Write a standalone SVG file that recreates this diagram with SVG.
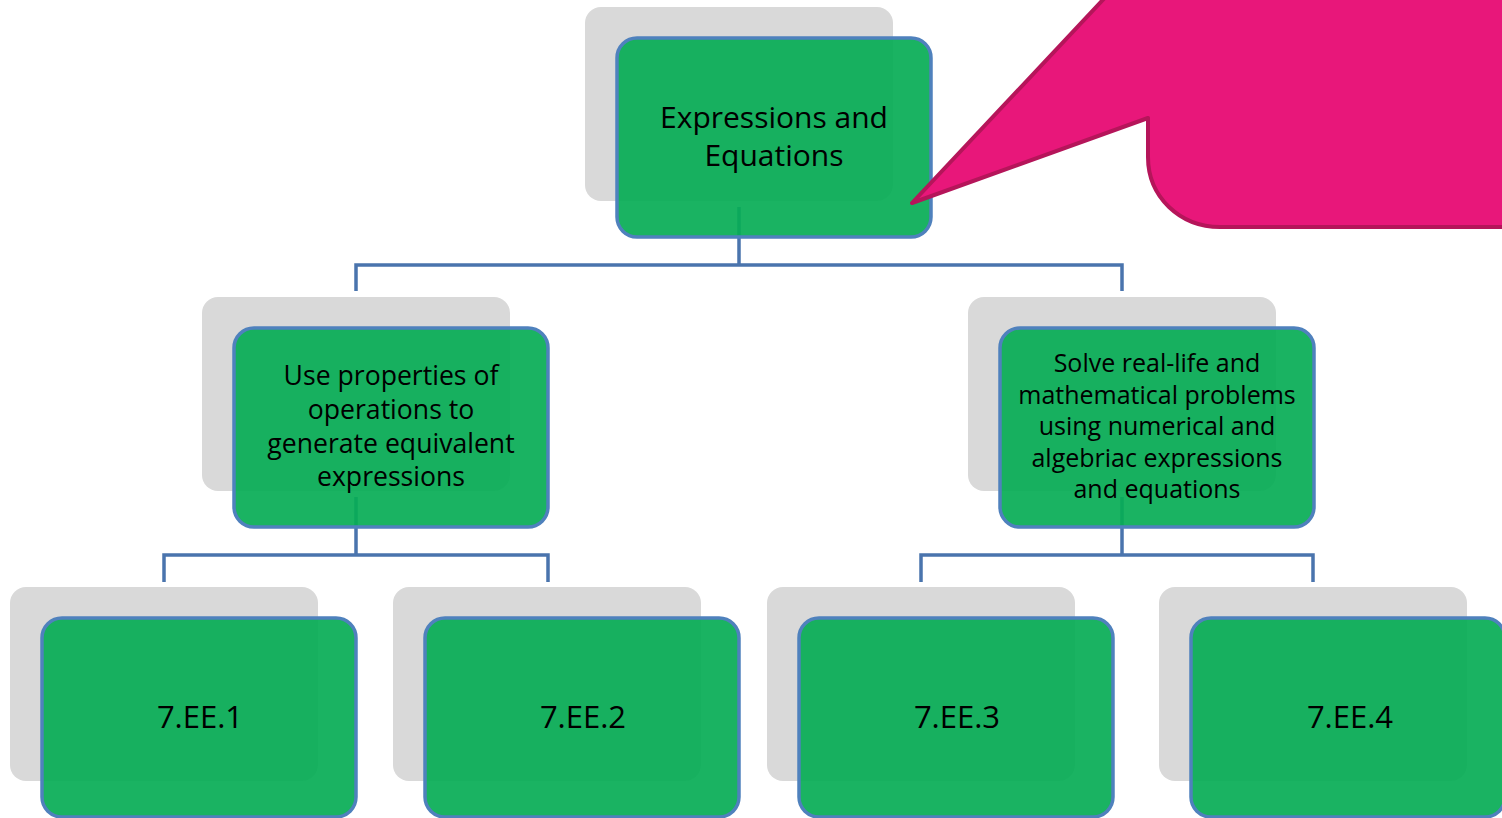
<svg xmlns="http://www.w3.org/2000/svg" width="1502" height="818" viewBox="0 0 1502 818">
<style>
.sh{fill:#d9d9d9}
.bx{fill:#06ad55;fill-opacity:0.92;stroke:#4f81bd;stroke-width:3.5}
.cn{fill:none;stroke:#4a74ad;stroke-width:3.5}
.t{font-family:"Open Sans","Noto Sans",sans-serif;fill:#000;text-anchor:middle}
</style>
<rect width="1502" height="818" fill="#fff"/>
<g id="shadows">
<rect class="sh" x="585" y="7" width="308" height="194" rx="16"/>
<rect class="sh" x="202" y="297" width="308" height="194" rx="16"/>
<rect class="sh" x="968" y="297" width="308" height="194" rx="16"/>
<rect class="sh" x="10" y="587" width="308" height="194" rx="16"/>
<rect class="sh" x="393" y="587" width="308" height="194" rx="16"/>
<rect class="sh" x="767" y="587" width="308" height="194" rx="16"/>
<rect class="sh" x="1159" y="587" width="308" height="194" rx="16"/>
</g>
<g id="connectors">
<path class="cn" d="M739,207 V265 M356,291 V265 H1122 V291"/>
<path class="cn" d="M356,497 V555 M164,582 V555 H548 V582"/>
<path class="cn" d="M1122,497 V555 M921,582 V555 H1313 V582"/>
</g>
<g id="n-root">
<rect class="bx" x="617" y="38" width="314" height="199" rx="20"/>
<text class="t" font-size="30" x="774" y="128">Expressions and</text>
<text class="t" font-size="30" x="774" y="166">Equations</text>
</g>
<g id="n-left">
<rect class="bx" x="234" y="328" width="314" height="199" rx="20"/>
<text class="t" font-size="26.6" x="391" y="385">Use properties of</text>
<text class="t" font-size="26.6" x="391" y="419">operations to</text>
<text class="t" font-size="26.6" x="391" y="453">generate equivalent</text>
<text class="t" font-size="26.6" x="391" y="486">expressions</text>
</g>
<g id="n-right">
<rect class="bx" x="1000" y="328" width="314" height="199" rx="20"/>
<text class="t" font-size="25" x="1157" y="372">Solve real-life and</text>
<text class="t" font-size="25" x="1157" y="404">mathematical problems</text>
<text class="t" font-size="25" x="1157" y="435">using numerical and</text>
<text class="t" font-size="25" x="1157" y="467">algebriac expressions</text>
<text class="t" font-size="25" x="1157" y="498">and equations</text>
</g>
<g id="n-ee1">
<rect class="bx" x="42" y="618" width="314" height="199" rx="20"/>
<text class="t" font-size="31" x="200" y="728">7.EE.1</text>
</g>
<g id="n-ee2">
<rect class="bx" x="425" y="618" width="314" height="199" rx="20"/>
<text class="t" font-size="31" x="583" y="728">7.EE.2</text>
</g>
<g id="n-ee3">
<rect class="bx" x="799" y="618" width="314" height="199" rx="20"/>
<text class="t" font-size="31" x="957" y="728">7.EE.3</text>
</g>
<g id="n-ee4">
<rect class="bx" x="1191" y="618" width="314" height="199" rx="20"/>
<text class="t" font-size="31" x="1350" y="728">7.EE.4</text>
</g>
<g id="callout">
<path d="M912,203 L1148,118 L1148,157 C1148,197 1180,227 1220,227 L1515,227 L1515,-12 L1114,-12 Z" fill="#e8177a" stroke="#b5155a" stroke-width="4" stroke-linejoin="round"/>
</g>
</svg>
